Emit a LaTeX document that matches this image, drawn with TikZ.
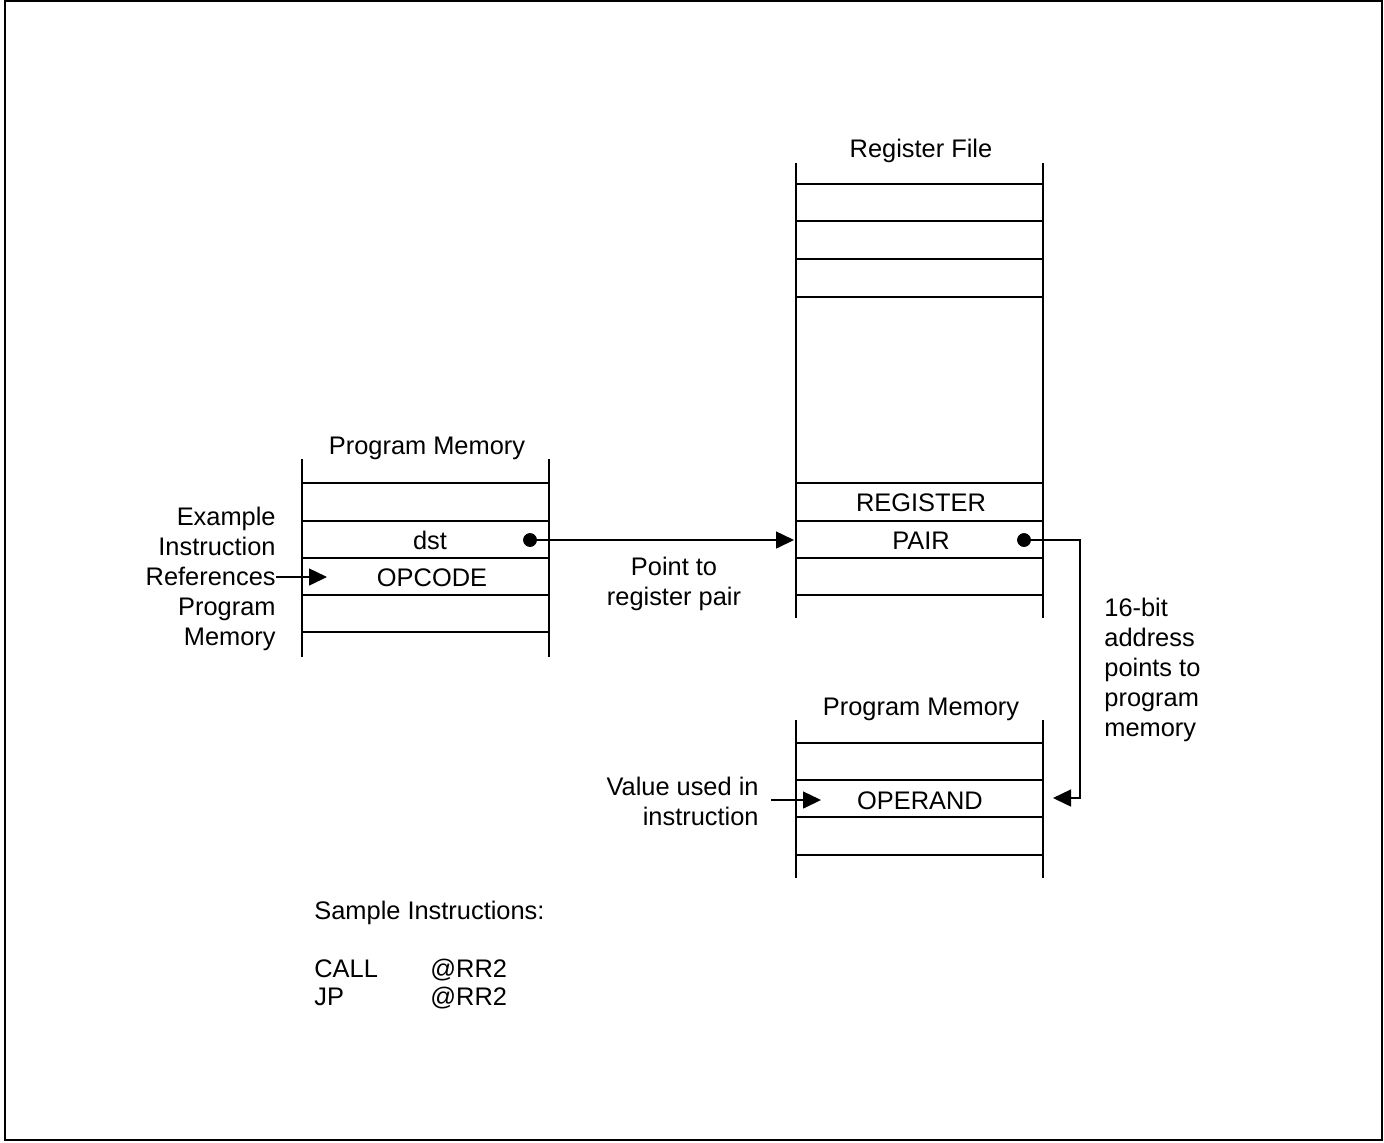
\documentclass[tikz,border=0pt]{standalone}
\usepackage{fontspec}
\setmainfont{Liberation Sans}
\usetikzlibrary{arrows.meta}

\tikzset{
  memline/.style={line width=1pt},
  ptr/.style={line width=0.75pt,-{Triangle[length=9pt,width=8.5pt]}},
  lbl/.style={inner sep=0pt,text height=0.72em,text depth=0pt},
  note/.style={inner sep=0pt}
}

\begin{document}
\begin{tikzpicture}[x=0.5pt,y=-0.5pt,font=\fontsize{12.7}{15}\selectfont]
\useasboundingbox (0,0) rectangle (1384,1142);
\draw[line width=1pt] (5,1) rectangle (1382,1140);
% program memory, left
\draw[memline] (302,459)--(302,657) (549,459)--(549,657);
\draw[memline] (302,483)--(549,483) (302,521)--(549,521) (302,558)--(549,558)
  (302,595)--(549,595) (302,632)--(549,632);
\node[lbl] (pmleft) at (427,447) {Program Memory};
\node[lbl] (dsttxt) at (430,542) {dst};
\node[lbl] (opcode) at (432,579) {OPCODE};
\node[note,align=right,anchor=east] (example) at (276,579)
  {Example\\Instruction\\References\\Program\\Memory};
% register file
\draw[memline] (796,163)--(796,618) (1043,163)--(1043,618);
\draw[memline] (796,184)--(1043,184) (796,221)--(1043,221) (796,259)--(1043,259)
  (796,297)--(1043,297) (796,483)--(1043,483) (796,521)--(1043,521)
  (796,558)--(1043,558) (796,595)--(1043,595);
\node[lbl] (regfile) at (921,150) {Register File};
\node[lbl] (register) at (921,504) {REGISTER};
\node[lbl] (pair) at (921,542) {PAIR};
% program memory, lower right
\draw[memline] (796,720)--(796,878) (1043,720)--(1043,878);
\draw[memline] (796,743)--(1043,743) (796,780)--(1043,780) (796,817)--(1043,817)
  (796,855)--(1043,855);
\node[lbl] (pmright) at (921,708) {Program Memory};
\node[lbl] (operand) at (920,802) {OPERAND};
% pointers
\coordinate (dstdot) at (530,540);
\coordinate (regin) at (794,540);
\coordinate (pairdot) at (1024,540);
\coordinate (bend) at (1080,798);
\coordinate (operin) at (1053,798);
\coordinate (opcin) at (327,577);
\coordinate (valin) at (821,800);
\coordinate (valout) at (771,800);
\filldraw (dstdot) circle (3.25pt);
\filldraw (pairdot) circle (3.25pt);
\draw[ptr] (dstdot) -- (regin);
\draw[ptr] (pairdot) -| (bend) -- (operin);
\draw[ptr] (example.east |- opcin) -- (opcin);
\draw[ptr] (valout) -- (valin);
\node[note,align=center] (pointto) at (674,584) {Point to\\register pair};
\node[note,align=right,anchor=east] (valuetxt) at (759,801) {Value used in\\instruction};
\node[note,align=left,anchor=west] (addrtxt) at (1104,670)
  {16-bit\\address\\points to\\program\\memory};
% sample instructions
\node[lbl,anchor=west] (sample) at (314,912) {Sample Instructions:};
\node[lbl,anchor=west] (call) at (314,970) {CALL};
\node[lbl,anchor=west] (callarg) at (430,970) {@RR2};
\node[lbl,anchor=west] (jp) at (314,998) {JP};
\node[lbl,anchor=west] (jparg) at (430,998) {@RR2};
\end{tikzpicture}
\end{document}
